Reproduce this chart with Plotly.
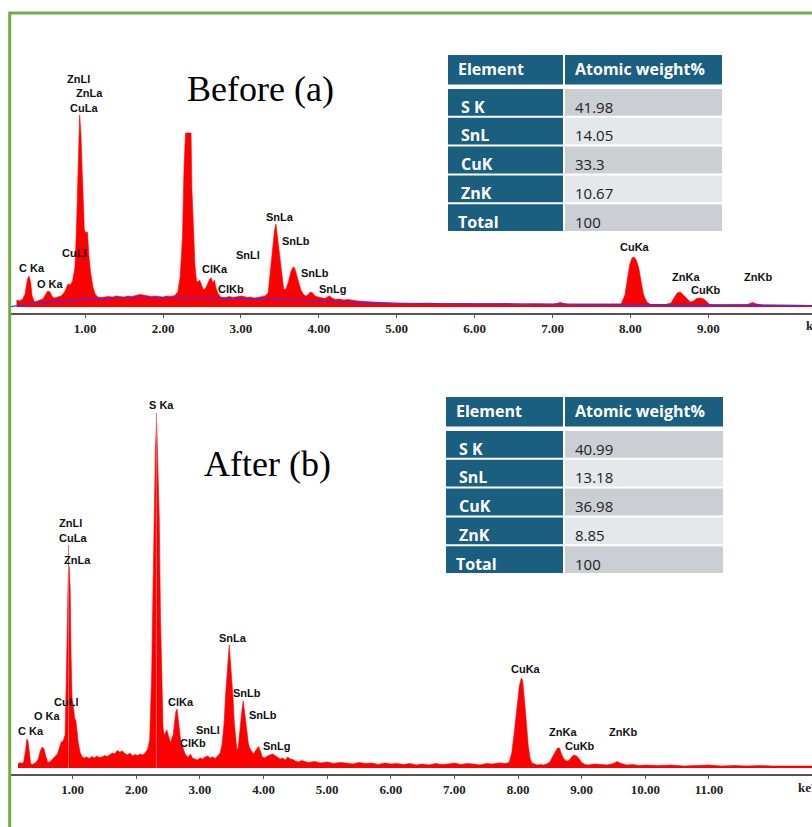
import plotly.graph_objects as go

W, H = 812, 827

# ---------------- data ----------------
# (a) Before: energy (keV) and counts
energy_a = [0.12, 0.16, 0.20, 0.23, 0.26, 0.28, 0.30, 0.32, 0.35, 0.38, 0.42, 0.46, 0.49, 0.52, 0.55, 0.58,
            0.61, 0.65, 0.69, 0.72, 0.75, 0.78, 0.81, 0.84, 0.87, 0.89, 0.91, 0.93, 0.945, 0.96, 0.98, 0.99,
            1.01, 1.03, 1.05, 1.07, 1.10, 1.13, 1.16, 1.20, 1.25, 1.30, 1.35, 1.40, 1.45, 1.50, 1.55, 1.60,
            1.65, 1.70, 1.75, 1.80, 1.85, 1.90, 1.95, 2.00, 2.05, 2.10, 2.15, 2.19, 2.22, 2.25, 2.27, 2.29,
            2.33, 2.36, 2.37, 2.39, 2.41, 2.43, 2.45, 2.47, 2.49, 2.52, 2.55, 2.57, 2.60, 2.62, 2.64, 2.66,
            2.68, 2.71, 2.74, 2.80, 2.85, 2.90, 2.95, 3.00, 3.04, 3.08, 3.12, 3.17, 3.22, 3.27, 3.31, 3.35,
            3.38, 3.41, 3.43, 3.45, 3.47, 3.49, 3.51, 3.53, 3.55, 3.58, 3.61, 3.64, 3.67, 3.69, 3.71, 3.74,
            3.77, 3.80, 3.83, 3.86, 3.89, 3.92, 3.95, 3.99, 4.03, 4.08, 4.11, 4.14, 4.17, 4.21, 4.26, 4.32,
            4.38, 4.44, 4.50, 4.60, 4.70, 4.80, 4.90, 5.00, 5.20, 5.40, 5.60, 5.80, 6.00, 6.20, 6.40, 6.60,
            6.80, 7.00, 7.10, 7.20, 7.40, 7.60, 7.80, 7.88, 7.93, 7.96, 7.99, 8.02, 8.05, 8.08, 8.11, 8.14,
            8.17, 8.21, 8.26, 8.35, 8.45, 8.52, 8.56, 8.60, 8.64, 8.68, 8.72, 8.77, 8.81, 8.85, 8.89, 8.93,
            8.97, 9.02, 9.10, 9.20, 9.30, 9.40, 9.50, 9.57, 9.62, 9.70, 9.80, 9.90, 10.00, 10.10, 10.20, 10.33]
counts_a = [70, 60, 80, 130, 280, 310, 250, 110, 50, 60, 70, 80, 120, 160, 150, 100,
            90, 100, 110, 130, 170, 230, 220, 260, 400, 800, 1350, 1920, 1750, 1400, 900, 770,
            740, 750, 500, 350, 200, 130, 100, 95, 100, 105, 100, 110, 105, 100, 110, 105,
            115, 125, 120, 110, 105, 110, 105, 100, 110, 105, 115, 150, 300, 700, 1400, 1740,
            1740, 1740, 1200, 700, 420, 260, 250, 270, 230, 170, 190, 230, 280, 290, 240, 270,
            190, 130, 100, 95, 105, 95, 100, 110, 105, 95, 100, 90, 95, 100, 110, 140,
            350, 600, 760, 830, 700, 520, 400, 280, 170, 180, 250, 350, 400, 390, 340, 260,
            170, 130, 110, 120, 150, 140, 110, 100, 90, 85, 100, 110, 90, 75, 80, 70,
            75, 65, 60, 55, 50, 45, 40, 35, 35, 40, 30, 35, 30, 30, 35, 25,
            30, 25, 45, 25, 25, 30, 25, 30, 120, 270, 420, 490, 500, 460, 380, 240,
            120, 50, 25, 20, 25, 40, 90, 140, 150, 120, 80, 50, 60, 85, 90, 85,
            60, 25, 20, 20, 25, 20, 25, 45, 30, 20, 20, 15, 15, 20, 15, 15]
bg_energy_a = [0.05, 0.34, 0.76, 1.19, 1.60, 2.05, 2.50, 2.90, 3.30, 3.76, 4.20, 4.61, 5.30, 6.00,
               7.00, 7.80, 8.50, 9.20, 10.33]
bg_counts_a = [3, 40, 63, 83, 90, 93, 90, 83, 78, 70, 55, 43, 35, 33, 31, 30, 27, 22, 15]

# (b) After
energy_b = [0.14, 0.17, 0.20, 0.23, 0.26, 0.28, 0.30, 0.32, 0.34, 0.37, 0.40, 0.43, 0.46, 0.49, 0.52, 0.55,
            0.58, 0.61, 0.64, 0.67, 0.70, 0.73, 0.76, 0.79, 0.82, 0.85, 0.88, 0.90, 0.915, 0.93, 0.945, 0.96,
            0.975, 0.99, 1.01, 1.03, 1.05, 1.07, 1.09, 1.12, 1.15, 1.18, 1.22, 1.26, 1.30, 1.34, 1.38, 1.42,
            1.46, 1.50, 1.54, 1.58, 1.62, 1.66, 1.70, 1.74, 1.78, 1.82, 1.86, 1.90, 1.94, 1.98, 2.02, 2.06,
            2.10, 2.14, 2.18, 2.21, 2.24, 2.26, 2.28, 2.30, 2.32, 2.34, 2.36, 2.38, 2.40, 2.42, 2.44, 2.46,
            2.48, 2.50, 2.52, 2.54, 2.56, 2.58, 2.60, 2.62, 2.64, 2.66, 2.68, 2.70, 2.73, 2.76, 2.79, 2.82,
            2.85, 2.88, 2.92, 2.96, 3.00, 3.04, 3.08, 3.12, 3.16, 3.20, 3.24, 3.28, 3.32, 3.35, 3.38, 3.40,
            3.42, 3.44, 3.46, 3.48, 3.50, 3.52, 3.54, 3.56, 3.58, 3.60, 3.62, 3.64, 3.66, 3.68, 3.70, 3.72,
            3.74, 3.76, 3.78, 3.81, 3.84, 3.87, 3.90, 3.92, 3.95, 3.98, 4.02, 4.06, 4.10, 4.14, 4.18, 4.22,
            4.26, 4.30, 4.34, 4.38, 4.42, 4.46, 4.50, 4.55, 4.60, 4.70, 4.80, 4.90, 5.00, 5.10, 5.20, 5.30,
            5.40, 5.50, 5.60, 5.70, 5.80, 5.90, 6.00, 6.10, 6.20, 6.30, 6.40, 6.50, 6.60, 6.70, 6.80, 6.90,
            7.00, 7.10, 7.20, 7.30, 7.40, 7.50, 7.60, 7.70, 7.80, 7.86, 7.90, 7.93, 7.96, 7.99, 8.02, 8.05,
            8.07, 8.10, 8.13, 8.16, 8.19, 8.22, 8.26, 8.30, 8.35, 8.40, 8.45, 8.50, 8.54, 8.58, 8.62, 8.65,
            8.68, 8.72, 8.76, 8.80, 8.84, 8.88, 8.92, 8.96, 9.00, 9.05, 9.10, 9.20, 9.30, 9.40, 9.50, 9.56,
            9.60, 9.70, 9.80, 9.90, 10.00, 10.20, 10.40, 10.60, 10.80, 11.00, 11.20, 11.40, 11.60, 11.80, 12.00, 12.20,
            12.40, 12.62]
counts_b = [40, 55, 45, 60, 180, 290, 260, 120, 40, 35, 50, 60, 90, 170, 210, 190,
            110, 55, 60, 80, 90, 110, 140, 200, 260, 270, 330, 900, 1500, 1950, 2010, 1800,
            1100, 700, 620, 500, 470, 330, 240, 150, 110, 100, 110, 95, 115, 100, 120, 105,
            110, 125, 115, 130, 150, 140, 175, 160, 170, 145, 130, 150, 120, 135, 125, 140,
            130, 150, 190, 280, 900, 1700, 2600, 3200, 3450, 3000, 2500, 1500, 900, 400, 330, 360,
            380, 330, 280, 250, 300, 330, 450, 560, 590, 500, 370, 250, 210, 150, 120, 110,
            140, 100, 90, 80, 100, 90, 110, 120, 100, 110, 95, 120, 150, 250, 450, 700,
            900, 1100, 1230, 1050, 900, 700, 450, 280, 180, 200, 350, 460, 580, 670, 560, 450,
            330, 250, 200, 170, 140, 170, 200, 215, 170, 110, 100, 120, 130, 140, 125, 110,
            90, 100, 80, 110, 90, 85, 70, 60, 75, 55, 65, 50, 60, 45, 55, 50,
            40, 55, 45, 50, 35, 50, 40, 45, 35, 45, 30, 40, 30, 45, 35, 40,
            50, 35, 45, 40, 30, 45, 40, 50, 45, 55, 150, 300, 480, 700, 820, 900,
            880, 680, 420, 220, 90, 50, 40, 30, 35, 30, 40, 60, 110, 160, 200, 200,
            140, 90, 70, 75, 110, 130, 120, 90, 55, 35, 30, 40, 35, 30, 45, 65,
            50, 30, 35, 25, 30, 25, 30, 20, 25, 30, 20, 25, 20, 25, 20, 20,
            25, 20]
marker_energy_b = [0.935, 2.315]
marker_top_b = [2230, 3550]

# peak labels: name, energy position, height position
labels_a = ["ZnLl", "ZnLa", "CuLa", "CuLl", "C Ka", "O Ka", "ClKa", "ClKb", "SnLl", "SnLa", "SnLb",
            "SnLb", "SnLg", "CuKa", "ZnKa", "CuKb", "ZnKb"]
label_x_a = [0.92, 1.05, 0.99, 0.86, 0.32, 0.55, 2.67, 2.87, 3.09, 3.50, 3.71, 3.95, 4.18, 8.06, 8.71, 8.97, 9.64]
label_y_a = [2280, 2140, 1990, 540, 390, 230, 380, 180, 520, 900, 660, 340, 180, 600, 300, 170, 300]

labels_b = ["S Ka", "ZnLl", "CuLa", "ZnLa", "CuLl", "O Ka", "C Ka", "ClKa", "SnLl", "ClKb", "SnLa",
            "SnLb", "SnLb", "SnLg", "CuKa", "ZnKa", "CuKb", "ZnKb"]
label_x_b = [2.39, 0.96, 1.01, 1.08, 0.90, 0.60, 0.34, 2.70, 3.13, 2.89, 3.52, 3.74, 3.99, 4.21, 8.12, 8.70, 8.97, 9.65]
label_y_b = [3630, 2450, 2300, 2080, 660, 520, 370, 660, 380, 250, 1300, 750, 530, 220, 990, 360, 220, 360]

ticks_a = [1, 2, 3, 4, 5, 6, 7, 8, 9]
ticks_b = [1, 2, 3, 4, 5, 6, 7, 8, 9, 10, 11]
ticktext_a = ["%.2f" % t for t in ticks_a]
ticktext_b = ["%.2f" % t for t in ticks_b]

table_header = ["Element", "Atomic weight%"]
table_elements = ["S K", "SnL", "CuK", "ZnK", "Total"]
table_values_a = ["41.98", "14.05", "33.3", "10.67", "100"]
table_values_b = ["40.99", "13.18", "36.98", "8.85", "100"]

titles = ["Before (a)", "After (b)"]

# ---------------- helpers ----------------
def px(x):
    return x / W

def py(y):
    return 1 - y / H

RED = "#ff0000"
TEAL = "#1a5e80"
LABEL_FONT = dict(family="Liberation Sans", size=11, color="#111", weight="bold")
TICK_FONT = dict(family="Liberation Sans Narrow, Liberation Serif", size=13, color="#222", weight="bold")

fig = go.Figure()

fig.add_trace(go.Scatter(x=energy_a, y=counts_a, mode="lines", fill="tozeroy", fillcolor=RED,
                         line=dict(color=RED, width=0.6), xaxis="x", yaxis="y", hoverinfo="skip"))
fig.add_trace(go.Scatter(x=bg_energy_a, y=bg_counts_a, mode="lines", line=dict(color="#3333ff", width=1.2),
                         xaxis="x", yaxis="y", hoverinfo="skip"))
fig.add_trace(go.Scatter(x=energy_b, y=counts_b, mode="lines", fill="tozeroy", fillcolor=RED,
                         line=dict(color=RED, width=0.6), xaxis="x2", yaxis="y2", hoverinfo="skip"))
for e, t in zip(marker_energy_b, marker_top_b):
    fig.add_trace(go.Scatter(x=[e, e], y=[0, t], mode="lines", line=dict(color="#e06a6a", width=1),
                             xaxis="x2", yaxis="y2", hoverinfo="skip"))

annotations = []
for name, xv, yv in zip(labels_a, label_x_a, label_y_a):
    annotations.append(dict(text=name, x=xv, y=yv, xref="x", yref="y", showarrow=False, font=LABEL_FONT,
                            xanchor="center", yanchor="middle"))
for name, xv, yv in zip(labels_b, label_x_b, label_y_b):
    annotations.append(dict(text=name, x=xv, y=yv, xref="x2", yref="y2", showarrow=False, font=LABEL_FONT,
                            xanchor="center", yanchor="middle"))


def paper_text(text, x, y, font, xanchor="left"):
    annotations.append(dict(text=text, x=px(x), y=py(y), xref="paper", yref="paper", showarrow=False,
                            xanchor=xanchor, yanchor="middle", font=font))


paper_text("keV", 804, 325, TICK_FONT)
paper_text("keV", 796, 787, TICK_FONT)

TITLE_FONT = dict(family="Liberation Serif", size=36, color="#000")
paper_text(titles[0], 260, 89, TITLE_FONT, xanchor="center")
paper_text(titles[1], 267, 464, TITLE_FONT, xanchor="center")

shapes = []


def rect(x0, x1, ytop, ybot, color):
    shapes.append(dict(type="rect", xref="paper", yref="paper", x0=px(x0), x1=px(x1),
                       y0=py(ybot), y1=py(ytop), fillcolor=color, line=dict(width=0), layer="above"))


HEAD_FONT = dict(family="Open Sans", size=16, color="white", weight="bold")
VAL_FONT = dict(family="Open Sans", size=15, color="#222")


def add_table(top, left, split, right, values):
    rect(left, split - 1, top, top + 29.5, TEAL)
    rect(split + 1, right, top, top + 29.5, TEAL)
    paper_text(table_header[0], left + 8, top + 14, HEAD_FONT)
    paper_text(table_header[1], split + 9, top + 14, HEAD_FONT)
    row_top = top + 34
    rh = 28.8
    for i, (el, val) in enumerate(zip(table_elements, values)):
        y0 = row_top + i * rh
        y1 = y0 + rh - 2
        rect(left, split - 1, y0, y1, TEAL)
        rect(split + 1, right, y0, y1, "#cbcfd4" if i % 2 == 0 else "#e5e8eb")
        indent = 8 if el == "Total" else 11
        paper_text(el, left + indent, y0 + 17.5, HEAD_FONT)
        paper_text(val, split + 9, y0 + 17.5, VAL_FONT)


add_table(55, 448, 564, 722, table_values_a)
add_table(397, 446, 564, 723, table_values_b)

# green frame
shapes.append(dict(type="rect", xref="paper", yref="paper", x0=px(9.7), x1=1.05, y0=-0.05, y1=py(13),
                   line=dict(color="#70ad47", width=3), fillcolor="rgba(0,0,0,0)", layer="above"))

axis_common = dict(showline=True, linecolor="#555", linewidth=1.5, ticks="outside", ticklen=3,
                   tickcolor="#555", tickwidth=1.2, showgrid=False, zeroline=False,
                   tickfont=TICK_FONT, fixedrange=True)

fig.update_layout(
    width=W, height=H, margin=dict(l=0, r=0, t=0, b=0),
    paper_bgcolor="white", plot_bgcolor="white", showlegend=False,
    xaxis=dict(domain=[px(11), 1], range=[0.0488, 10.331], anchor="y",
               tickvals=ticks_a, ticktext=ticktext_a, **axis_common),
    yaxis=dict(domain=[py(313), py(40)], range=[-60, 2670], visible=False, fixedrange=True),
    xaxis2=dict(domain=[px(11), 1], range=[0.0303, 12.619], anchor="y2",
                tickvals=ticks_b, ticktext=ticktext_b, **axis_common),
    yaxis2=dict(domain=[py(774), py(395)], range=[-60, 3730], visible=False, fixedrange=True),
    annotations=annotations, shapes=shapes,
)

fig.write_html("out.html")
